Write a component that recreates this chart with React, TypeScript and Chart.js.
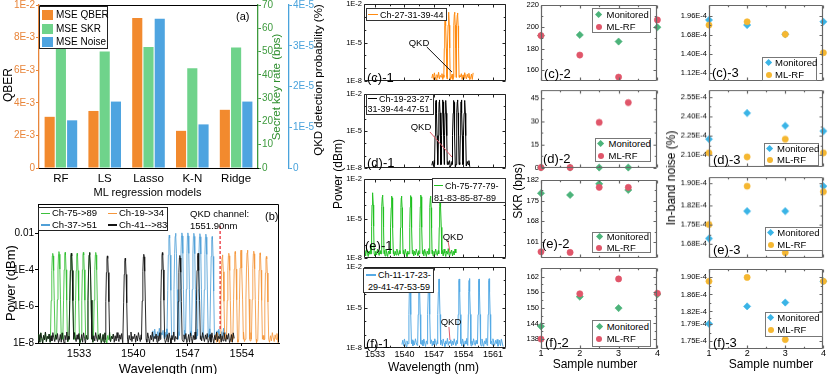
import React, { useEffect, useRef } from 'react';
import { Chart, registerables } from 'chart.js';
Chart.register(...registerables);

const FONT = '"Liberation Sans", Arial, Helvetica, sans-serif';
Chart.defaults.font.family = FONT;

// ---------------- (a) bar chart data ----------------
const MODELS = ['RF', 'LS', 'Lasso', 'K-N', 'Ridge'];
const MSE_QBER = [3.14e-3, 3.5e-3, 9.2e-3, 2.28e-3, 3.57e-3];
const MSE_SKR = [51.7, 50.0, 52.0, 42.8, 51.7];
const MSE_NOISE = [1.17e-5, 1.63e-5, 3.66e-5, 1.07e-5, 1.63e-5];
const QBER_TICKS = [0, 0.002, 0.004, 0.006, 0.008, 0.01];
const QBER_LABELS = ['0', '2E-3', '4E-3', '6E-3', '8E-3', '1E-2'];
const SKR_TICKS = [0, 10, 20, 30, 40, 50, 60, 70];
const NOISE_TICKS = [0, 1e-5, 2e-5, 3e-5, 4e-5];
const NOISE_LABELS = ['0', '1E-5', '2E-5', '3E-5', '4E-5'];

// ---------------- (b) spectrum data ----------------
const B_GREEN_NM = [1529.6, 1530.4, 1531.2, 1532.0, 1532.75, 1533.55, 1534.35, 1535.15];
const B_GREEN_P = [8e-4, 1e-3, 9e-4, 8e-4, 8e-4, 9e-4, 9e-4, 9e-4];
const B_BLACK_NM = [1532.0, 1534.35, 1536.65, 1538.95, 1541.35, 1543.75, 1546.0, 1548.35];
const B_BLACK_P = [8e-4, 8.8e-4, 5.8e-4, 4.3e-4, 7.1e-4, 8.8e-4, 6.1e-4, 8.1e-4];
const B_BLUE_NM = [1544.64, 1545.45, 1546.27, 1547.04, 1547.81, 1548.59, 1549.36, 1550.17];
const B_BLUE_P = [8e-3, 1e-2, 1.05e-2, 1.05e-2, 1e-2, 9.5e-3, 9e-3, 6.6e-3];
const B_ORANGE_NM = [1551.5, 1552.32, 1553.14, 1553.9, 1554.73, 1555.54, 1556.36, 1557.17];
const B_ORANGE_P = [6.6e-4, 8.1e-4, 1e-3, 1.2e-3, 1.2e-3, 1.05e-3, 8.5e-4, 5.4e-4];
const B_X_TICKS = [1533, 1540, 1547, 1554];
const B_Y_TICKS = [1e-8, 1e-6, 1e-4, 1e-2];
const B_Y_LABELS = ['1E-8', '1E-6', '1E-4', '0.01'];
const QKD_LINE_NM = 1551.2;

// ---------------- (c..f)-1 spectra ----------------
const C1_NM = [1549.7, 1550.5, 1551.9, 1552.6];
const C1_P = [2e-3, 2.3e-3, 2.3e-3, 2e-3];
const D1_NM = [1547.5, 1548.3, 1549.1, 1549.8, 1551.7, 1552.6, 1553.5, 1554.3];
const D1_P = [3e-3, 3.3e-3, 3.3e-3, 3e-3, 3e-3, 3.3e-3, 3.3e-3, 3e-3];
const E1_NM = [1532.45, 1534.8, 1537.0, 1539.3, 1541.5, 1543.9, 1546.2, 1548.5];
const E1_P = [9e-4, 6e-4, 5e-4, 5e-4, 5.5e-4, 6e-4, 5e-4, 6e-4];
const F1_NM = [1541.3, 1543.5, 1545.8, 1548.2, 1553.0, 1555.4, 1557.7, 1560.1];
const F1_P = [1.3e-3, 1.3e-3, 1.4e-3, 1.3e-3, 1.3e-3, 1.4e-3, 1.3e-3, 1.35e-3];
const MID_X_TICKS = [1533, 1540, 1547, 1554, 1561];
const MID_Y_TICKS = [1e-8, 1e-5, 1e-2];
const MID_Y_LABELS = ['1E-8', '1E-5', '1E-2'];

// noise floor texture (in units of the floor level)
const NOISE_TEXTURE = [1.4, 2.9, 1.1, 3.6, 1.8, 1.0, 2.6, 1.5, 4.0, 1.2, 2.3, 1.7, 3.1, 1.1, 2.5, 1.3, 3.7, 1.9, 1.2, 2.8, 1.6, 3.3, 1.05];

// ---------------- (c..f)-2 SKR ----------------
const SAMPLES = [1, 2, 3, 4];
const SAMPLES_DE = [1, 1.75, 2.5, 3.25];
const SKR_C_MON = [192, 192.6, 186.5, 199.7];
const SKR_C_ML = [192, 174, 153.6, 206.5];
const SKR_D_MON = [0, 0, 0, 0];
const SKR_D_ML = [0, 0, 29.3, 42.2];
const SKR_E_MON = [177.5, 176.9, 180.7, 178.6];
const SKR_E_ML = [157.6, 157.4, 179.5, 179.5];
const SKR_F_MON = [142.9, 154.3, 149.9, 155.2];
const SKR_F_ML = [138, 155.4, 161.1, 155.6];
const SKR_C_TICKS = [160, 180, 200, 220];
const SKR_D_TICKS = [0, 15, 30, 45];
const SKR_E_TICKS = [161, 168, 175, 182];
const SKR_F_TICKS = [138, 144, 150, 156, 162];

// ---------------- (c..f)-3 in-band noise ----------------
const NZ_C_MON = [1.897e-4, 1.824e-4, 1.689e-4, 1.872e-4];
const NZ_C_ML = [1.824e-4, 1.872e-4, 1.689e-4, 1.42e-4];
const NZ_D_MON = [2.224e-4, 2.425e-4, 2.327e-4, 2.286e-4];
const NZ_D_ML = [2.118e-4, 2.087e-4, 2.224e-4, 2.118e-4];
const NZ_E_MON = [1.7006e-4, 1.799e-4, 1.799e-4, 1.889e-4];
const NZ_E_ML = [1.751e-4, 1.889e-4, 1.65e-4, 1.869e-4];
const NZ_F_MON = [1.791e-4, 1.832e-4, 1.841e-4, 1.891e-4];
const NZ_F_ML = [1.891e-4, 1.90e-4, 1.754e-4, 1.891e-4];
const NZ_C_TICKS = [1.12e-4, 1.40e-4, 1.68e-4, 1.96e-4];
const NZ_D_TICKS = [2.10e-4, 2.25e-4, 2.40e-4, 2.55e-4];
const NZ_E_TICKS = [1.68e-4, 1.75e-4, 1.82e-4, 1.90e-4];
const NZ_F_TICKS = [1.75e-4, 1.79e-4, 1.82e-4, 1.86e-4, 1.90e-4];

// ---------------- styles ----------------
const C_ORANGE = '#f28a2e';
const C_GREEN = '#6fd38b';
const C_BLUE = '#4ea4e0';
const AX_ORANGE = '#e8853a';
const AX_GREEN = '#3d9a3d';
const AX_BLUE = '#4aa3dc';
const MON2 = '#4cb37a';
const ML2 = '#e0566a';
const MON3 = '#3ab4e6';
const ML3 = '#f5b731';
const FRAME_GRAY = '#666';

const PEAK_SHAPE: [number, number][] = [[-0.3, 0], [-0.2, 0.45], [-0.12, 0.8], [-0.05, 0.97], [0, 1], [0.05, 0.97], [0.12, 0.8], [0.2, 0.45], [0.3, 0]];

function spectrum(centres: number[], powers: number[], from: number, to: number, level: number, step: number, wscale: number) {
  const floor = level * 1.6;
  const pts: { x: number; y: number }[] = [];
  const n = Math.round((to - from) / step);
  const hw = 0.3 * wscale;
  for (let i = 0; i <= n; i++) {
    const x = from + i * step;
    if (centres.some((c) => Math.abs(x - c) < hw)) continue;
    pts.push({ x, y: NOISE_TEXTURE[i % NOISE_TEXTURE.length] * level });
  }
  centres.forEach((c, k) => PEAK_SHAPE.forEach(([dx, f]) => pts.push({ x: c + dx * wscale, y: floor * Math.pow(powers[k] / floor, f) })));
  return pts.sort((a, b) => a.x - b.x);
}

const mids = (a: number[]) => a.slice(1).map((v, i) => (v + a[i]) / 2);

type Box = { l: number; t: number; r: number; b: number };

function framePlugin(o: { sides?: string[]; color?: string; width?: number; ticks?: boolean; xMinor?: number[]; yMinor?: number[]; len?: number }) {
  return {
    id: 'frame',
    afterDraw(chart: any) {
      const { ctx, chartArea: a } = chart;
      ctx.save();
      ctx.strokeStyle = o.color ?? '#000';
      ctx.lineWidth = o.width ?? 1;
      const L = Math.round(a.left) + 0.5, R = Math.round(a.right) - 0.5, T = Math.round(a.top) + 0.5, B = Math.round(a.bottom) - 0.5;
      const sides = o.sides ?? ['top', 'right', 'bottom', 'left'];
      ctx.beginPath();
      if (sides.includes('top')) { ctx.moveTo(L, T); ctx.lineTo(R, T); }
      if (sides.includes('right')) { ctx.moveTo(R, T); ctx.lineTo(R, B); }
      if (sides.includes('bottom')) { ctx.moveTo(L, B); ctx.lineTo(R, B); }
      if (sides.includes('left')) { ctx.moveTo(L, T); ctx.lineTo(L, B); }
      ctx.stroke();
      if (o.ticks) {
        const xs = chart.scales.x, ys = chart.scales.y;
        const len = o.len ?? 3, ml = len * 0.6;
        ctx.beginPath();
        const xt = (v: number, l: number) => { const p = Math.round(xs.getPixelForValue(v)) + 0.5; ctx.moveTo(p, B); ctx.lineTo(p, B - l); ctx.moveTo(p, T); ctx.lineTo(p, T + l); };
        const yt = (v: number, l: number) => { const p = Math.round(ys.getPixelForValue(v)) + 0.5; ctx.moveTo(L, p); ctx.lineTo(L + l, p); ctx.moveTo(R, p); ctx.lineTo(R - l, p); };
        xs.ticks.forEach((t: any) => xt(t.value, len));
        (o.xMinor || []).forEach((v) => xt(v, ml));
        ys.ticks.forEach((t: any) => yt(t.value, len));
        (o.yMinor || []).forEach((v) => yt(v, ml));
        ctx.stroke();
      }
      ctx.restore();
    },
  };
}

function annotPlugin(lines: { x1: number; y1: number; x2: number; y2: number; color: string; dash?: number[]; width?: number }[]) {
  return {
    id: 'annot',
    afterDatasetsDraw(chart: any) {
      const { ctx } = chart;
      const xs = chart.scales.x, ys = chart.scales.y;
      ctx.save();
      for (const ln of lines) {
        ctx.beginPath();
        ctx.strokeStyle = ln.color;
        ctx.lineWidth = ln.width ?? 1;
        ctx.setLineDash(ln.dash ?? []);
        ctx.moveTo(xs.getPixelForValue(ln.x1), ys.getPixelForValue(ln.y1));
        ctx.lineTo(xs.getPixelForValue(ln.x2), ys.getPixelForValue(ln.y2));
        ctx.stroke();
      }
      ctx.restore();
    },
  };
}

const fixW = (w: number) => (s: any) => { s.width = w; };
const fixH = (h: number) => (s: any) => { s.height = h; };
const setTicks = (vals: number[]) => (s: any) => { s.ticks = vals.map((v) => ({ value: v })); };

function baseOpts(m: Box, padRight: number) {
  return {
    animation: false,
    responsive: false,
    devicePixelRatio: 1,
    events: [],
    layout: { padding: { left: 0, top: m.t, right: padRight, bottom: 0 } },
    plugins: { legend: { display: false }, tooltip: { enabled: false } },
  };
}

function ChartPanel({ rect, marg, make }: { rect: Box; marg: Box; make: () => any }) {
  const ref = useRef<HTMLCanvasElement>(null);
  const w = rect.r - rect.l + marg.l + marg.r;
  const h = rect.b - rect.t + marg.t + marg.b;
  useEffect(() => {
    const chart = new Chart(ref.current as HTMLCanvasElement, make());
    return () => chart.destroy();
  }, []);
  return <canvas ref={ref} width={w} height={h} style={{ position: 'absolute', left: rect.l - marg.l, top: rect.t - marg.t, width: w, height: h }} />;
}

// ---------- configs ----------
const A_RECT: Box = { l: 39, t: 5, r: 258, b: 168 };
const A_MARG: Box = { l: 39, t: 8, r: 72, b: 16 };
function configA() {
  const tickFont = { size: 10, lineHeight: 1, family: FONT };
  return {
    type: 'bar',
    data: {
      labels: MODELS,
      datasets: [
        { label: 'MSE QBER', data: MSE_QBER, backgroundColor: C_ORANGE, yAxisID: 'yQ', borderWidth: 0 },
        { label: 'MSE SKR', data: MSE_SKR, backgroundColor: C_GREEN, yAxisID: 'yS', borderWidth: 0 },
        { label: 'MSE Noise', data: MSE_NOISE, backgroundColor: C_BLUE, yAxisID: 'yN', borderWidth: 0 },
      ],
    },
    options: {
      ...baseOpts(A_MARG, 0),
      datasets: { bar: { categoryPercentage: 0.77, barPercentage: 0.9 } },
      scales: {
        x: { type: 'category', grid: { display: false, drawTicks: false }, border: { display: true, color: '#000', z: 1 }, ticks: { font: { size: 11.5, lineHeight: 1, family: FONT }, color: '#000', padding: 5 }, afterFit: fixH(A_MARG.b) },
        yQ: {
          position: 'left', min: 0, max: 0.01, afterBuildTicks: setTicks(QBER_TICKS), afterFit: fixW(A_MARG.l),
          grid: { display: true, drawOnChartArea: false, drawTicks: true, tickLength: 3, color: AX_ORANGE, lineWidth: 1 },
          border: { display: true, color: AX_ORANGE, width: 1.3 },
          ticks: { font: tickFont, color: AX_ORANGE, padding: 1, callback: (_v: any, i: number) => QBER_LABELS[i] },
        },
        yS: {
          position: 'right', weight: 0, min: 0, max: 70, afterBuildTicks: setTicks(SKR_TICKS), afterFit: fixW(31),
          grid: { display: true, drawOnChartArea: false, drawTicks: true, tickLength: 3, color: AX_GREEN, lineWidth: 1 },
          border: { display: true, color: AX_GREEN, width: 1.3 },
          ticks: { font: tickFont, color: AX_GREEN, padding: 1 },
        },
        yN: {
          position: 'right', weight: 1, min: 0, max: 4e-5, afterBuildTicks: setTicks(NOISE_TICKS), afterFit: fixW(A_MARG.r - 31),
          grid: { display: true, drawOnChartArea: false, drawTicks: true, tickLength: 3, color: AX_BLUE, lineWidth: 1 },
          border: { display: true, color: AX_BLUE, width: 1.3 },
          ticks: { font: tickFont, color: AX_BLUE, padding: 1, callback: (_v: any, i: number) => NOISE_LABELS[i] },
        },
      },
    },
    plugins: [framePlugin({ sides: ['top'], color: '#000' })],
  };
}

const B_RECT: Box = { l: 38, t: 204, r: 279, b: 343 };
const B_MARG: Box = { l: 38, t: 8, r: 6, b: 31 };
function configB() {
  const line = (data: any, color: string) => ({ data, borderColor: color, borderWidth: 1, pointRadius: 0, tension: 0, fill: false });
  return {
    type: 'line',
    data: {
      datasets: [
        line(spectrum(B_BLACK_NM, B_BLACK_P, 1527.7, 1553.0, 1e-8, 0.12, 1), 'rgba(20,20,20,0.9)'),
        line(spectrum(B_ORANGE_NM, B_ORANGE_P, 1550.5, 1558.8, 1e-8, 0.12, 1), 'rgba(245,150,60,0.85)'),
        line(spectrum(B_BLUE_NM, B_BLUE_P, 1542.4, 1552.0, 1.6e-8, 0.12, 1), 'rgba(80,160,215,0.85)'),
        line(spectrum(B_GREEN_NM, B_GREEN_P, 1527.7, 1537.4, 1e-8, 0.12, 1), 'rgba(50,190,50,0.85)'),
      ],
    },
    options: {
      ...baseOpts(B_MARG, B_MARG.r),
      scales: {
        x: {
          type: 'linear', min: 1527.7, max: 1558.8, afterBuildTicks: setTicks(B_X_TICKS), afterFit: fixH(B_MARG.b),
          grid: { display: true, drawOnChartArea: false, drawTicks: true, tickLength: 3, color: '#000' },
          border: { display: true, color: '#000' },
          ticks: { font: { size: 11, lineHeight: 1 }, color: '#000', padding: 2.5, callback: (v: any) => String(v) },
        },
        y: {
          type: 'logarithmic', min: 1e-8, max: 0.4, afterBuildTicks: setTicks(B_Y_TICKS), afterFit: fixW(B_MARG.l),
          grid: { display: true, drawOnChartArea: false, drawTicks: true, tickLength: 3, color: '#000' },
          border: { display: true, color: '#000' },
          ticks: { font: { size: 10, lineHeight: 1 }, color: '#000', padding: 1, callback: (_v: any, i: number) => B_Y_LABELS[i] },
        },
      },
    },
    plugins: [
      framePlugin({ sides: ['top', 'right'], color: '#000' }),
      annotPlugin([{ x1: QKD_LINE_NM, y1: 0.025, x2: QKD_LINE_NM, y2: 5e-8, color: '#e8202a', dash: [3, 2], width: 1.2 }]),
    ],
  };
}

function configMid(data: any, color: string, showX: boolean, marg: Box, pointer: any) {
  return {
    type: 'line',
    data: { datasets: [{ data, borderColor: color, borderWidth: 1, pointRadius: 0, tension: 0, fill: false }] },
    options: {
      ...baseOpts(marg, marg.r),
      scales: {
        x: {
          type: 'linear', min: 1530.4, max: 1564.1, afterBuildTicks: setTicks(MID_X_TICKS), afterFit: fixH(marg.b),
          grid: { display: false, drawTicks: false }, border: { display: false },
          ticks: { display: showX, font: { size: 9, lineHeight: 1 }, color: '#000', padding: 2.5, callback: (v: any) => String(v) },
        },
        y: {
          type: 'logarithmic', min: 1e-8, max: 1e-2, afterBuildTicks: setTicks(MID_Y_TICKS), afterFit: fixW(marg.l),
          grid: { display: false, drawTicks: false }, border: { display: false },
          ticks: { font: { size: 7.5, lineHeight: 1 }, color: '#000', padding: 2, callback: (_v: any, i: number) => MID_Y_LABELS[i] },
        },
      },
    },
    plugins: [
      framePlugin({ color: '#222', ticks: true, xMinor: mids(MID_X_TICKS), yMinor: [1e-7, 1e-6, 1e-4, 1e-3] }),
      annotPlugin([pointer]),
    ],
  };
}

function configScatter(xs: number[], mon: number[], ml: number[], monColor: string, mlColor: string, min: number, max: number, ticks: number[], fmt: (v: number) => string, showX: boolean, marg: Box) {
  const pts = (vals: number[]) => xs.map((x, i) => ({ x, y: vals[i] }));
  return {
    type: 'scatter',
    data: {
      datasets: [
        { label: 'ML-RF', data: pts(ml), pointStyle: 'circle', pointRadius: 3.1, backgroundColor: mlColor, borderColor: mlColor, borderWidth: 0.6, clip: false },
        { label: 'Monitored', data: pts(mon), pointStyle: 'rectRot', pointRadius: 3.6, backgroundColor: monColor, borderColor: monColor, borderWidth: 0.6, clip: false },
      ],
    },
    options: {
      ...baseOpts(marg, marg.r),
      scales: {
        x: {
          type: 'linear', min: 1, max: 4, afterBuildTicks: setTicks(SAMPLES), afterFit: fixH(marg.b),
          grid: { display: false, drawTicks: false }, border: { display: false },
          ticks: { display: showX, font: { size: 9, lineHeight: 1 }, color: '#000', padding: 0.5, callback: (v: any) => String(v) },
        },
        y: {
          type: 'linear', min, max, afterBuildTicks: setTicks(ticks), afterFit: fixW(marg.l),
          grid: { display: false, drawTicks: false }, border: { display: false },
          ticks: { font: { size: 7.5, lineHeight: 1 }, color: '#000', padding: 2, callback: (v: any) => fmt(v) },
        },
      },
    },
    plugins: [framePlugin({ color: FRAME_GRAY, width: 1.2, ticks: true, xMinor: mids(SAMPLES), yMinor: mids(ticks) })],
  };
}

const fmtInt = (v: number) => String(Math.round(v));
const fmtE4 = (v: number) => (v * 1e4).toFixed(2) + 'E-4';

// rects
const MID_L = 364, MID_R = 506;
const C1_RECT: Box = { l: MID_L, t: 4, r: MID_R, b: 81 };
const D1_RECT: Box = { l: MID_L, t: 94, r: MID_R, b: 168 };
const E1_RECT: Box = { l: MID_L, t: 179, r: MID_R, b: 258 };
const F1_RECT: Box = { l: MID_L, t: 267, r: MID_R, b: 348 };
const MID_MARG: Box = { l: 30, t: 8, r: 4, b: 6 };
const MID_MARG_B: Box = { l: 30, t: 8, r: 4, b: 20 };

const C2_L = 541, C2_R = 658;
const C3_L = 709, C3_R = 824;
const COL2_MARG: Box = { l: 28, t: 8, r: 4, b: 6 };
const COL2_MARG_B: Box = { l: 28, t: 8, r: 4, b: 20 };
const COL3_MARG: Box = { l: 36, t: 8, r: 4, b: 6 };
const COL3_MARG_B: Box = { l: 36, t: 8, r: 4, b: 20 };

function T({ x, y, s, size = 11, color = '#000', align = 'l', rot = 0 }: { x: number; y: number; s: string; size?: number; color?: string; align?: string; rot?: number }) {
  const tx = align === 'c' ? '-50%' : align === 'r' ? '-100%' : '0';
  return (
    <div style={{ position: 'absolute', left: x, top: y, transform: `translate(${tx},-50%) rotate(${rot}deg)`, fontSize: size, color, whiteSpace: 'nowrap', lineHeight: 1, fontFamily: FONT }}>{s}</div>
  );
}

function Mk({ kind, color, x, y, w = 10 }: { kind: string; color: string; x: number; y: number; w?: number }) {
  if (kind === 'line') return <div style={{ position: 'absolute', left: x, top: y - 0.75, width: w, height: 1.5, background: color }} />;
  if (kind === 'square') return <div style={{ position: 'absolute', left: x, top: y - 5, width: 11, height: 10, background: color }} />;
  if (kind === 'diamond') return <div style={{ position: 'absolute', left: x - 2.6, top: y - 2.6, width: 5.2, height: 5.2, background: color, transform: 'rotate(45deg)' }} />;
  return <div style={{ position: 'absolute', left: x - 3, top: y - 3, width: 6, height: 6, borderRadius: '50%', background: color }} />;
}

function Frame({ x, y, w, h, color = '#222' }: { x: number; y: number; w: number; h: number; color?: string }) {
  return <div style={{ position: 'absolute', left: x, top: y, width: w, height: h, border: `1px solid ${color}`, background: '#fff', boxSizing: 'border-box' }} />;
}

function ScatterLegend({ x, y, w, h, r1, r2, mx, tx, mon, ml }: { x: number; y: number; w: number; h: number; r1: number; r2: number; mx: number; tx: number; mon: string; ml: string }) {
  return (
    <>
      <Frame x={x} y={y} w={w} h={h} color="#777" />
      <Mk kind="diamond" color={mon} x={mx} y={r1} />
      <T x={tx} y={r1} s="Monitored" size={9.5} />
      <Mk kind="circle" color={ml} x={mx} y={r2} />
      <T x={tx} y={r2} s="ML-RF" size={9.5} />
    </>
  );
}

export default function App() {
  return (
    <div style={{ position: 'fixed', left: 0, top: 0, width: 830, height: 374, overflow: 'hidden', background: '#fff', fontFamily: FONT }}>
      <ChartPanel rect={A_RECT} marg={A_MARG} make={configA} />
      <ChartPanel rect={B_RECT} marg={B_MARG} make={configB} />

      <ChartPanel rect={C1_RECT} marg={MID_MARG} make={() => configMid(spectrum(C1_NM, C1_P, 1546.5, 1556.3, 1.2e-8, 0.2, 1.2), '#ff8a10', false, MID_MARG, { x1: 1545.3, y1: 4.5e-6, x2: 1551.27, y2: 5e-8, color: '#111' })} />
      <ChartPanel rect={D1_RECT} marg={MID_MARG} make={() => configMid(spectrum(D1_NM, D1_P, 1546.5, 1555.5, 1.2e-8, 0.2, 1.2), '#000', false, MID_MARG, { x1: 1546.05, y1: 8.3e-6, x2: 1551.27, y2: 7.8e-8, color: '#e05a6a' })} />
      <ChartPanel rect={E1_RECT} marg={MID_MARG} make={() => configMid(spectrum(E1_NM, E1_P, 1530.4, 1552.2, 1.3e-8, 0.2, 1.2), '#20c020', false, MID_MARG, { x1: 1550.3, y1: 2.3e-7, x2: 1550.8, y2: 2.9e-8, color: '#e05a6a' })} />
      <ChartPanel rect={F1_RECT} marg={MID_MARG_B} make={() => configMid(spectrum(F1_NM, F1_P, 1539.4, 1563.4, 1.3e-8, 0.2, 1.2), '#55aae5', true, MID_MARG_B, { x1: 1550.56, y1: 3.6e-7, x2: 1550.8, y2: 3.9e-8, color: '#e05a6a' })} />

      <ChartPanel rect={{ l: C2_L, t: 5, r: C2_R, b: 81 }} marg={COL2_MARG} make={() => configScatter(SAMPLES, SKR_C_MON, SKR_C_ML, MON2, ML2, 150, 220.3, SKR_C_TICKS, fmtInt, false, COL2_MARG)} />
      <ChartPanel rect={{ l: C2_L, t: 90, r: C2_R, b: 167.5 }} marg={COL2_MARG} make={() => configScatter(SAMPLES_DE, SKR_D_MON, SKR_D_ML, MON2, ML2, -0.3, 50.3, SKR_D_TICKS, fmtInt, false, COL2_MARG)} />
      <ChartPanel rect={{ l: C2_L, t: 179.5, r: C2_R, b: 257.7 }} marg={COL2_MARG} make={() => configScatter(SAMPLES_DE, SKR_E_MON, SKR_E_ML, MON2, ML2, 155.5, 182, SKR_E_TICKS, fmtInt, false, COL2_MARG)} />
      <ChartPanel rect={{ l: C2_L, t: 268, r: C2_R, b: 349.3 }} marg={COL2_MARG_B} make={() => configScatter(SAMPLES, SKR_F_MON, SKR_F_ML, MON2, ML2, 134.2, 165.3, SKR_F_TICKS, fmtInt, true, COL2_MARG_B)} />

      <ChartPanel rect={{ l: C3_L, t: 5, r: C3_R, b: 81 }} marg={COL3_MARG} make={() => configScatter(SAMPLES, NZ_C_MON, NZ_C_ML, MON3, ML3, 1.008e-4, 2.116e-4, NZ_C_TICKS, fmtE4, false, COL3_MARG)} />
      <ChartPanel rect={{ l: C3_L, t: 90, r: C3_R, b: 166.7 }} marg={COL3_MARG} make={() => configScatter(SAMPLES, NZ_D_MON, NZ_D_ML, MON3, ML3, 2.0095e-4, 2.602e-4, NZ_D_TICKS, fmtE4, false, COL3_MARG)} />
      <ChartPanel rect={{ l: C3_L, t: 177, r: C3_R, b: 257.7 }} marg={COL3_MARG} make={() => configScatter(SAMPLES, NZ_E_MON, NZ_E_ML, MON3, ML3, 1.6305e-4, 1.9217e-4, NZ_E_TICKS, fmtE4, false, COL3_MARG)} />
      <ChartPanel rect={{ l: C3_L, t: 269.3, r: C3_R, b: 349.3 }} marg={COL3_MARG_B} make={() => configScatter(SAMPLES, NZ_F_MON, NZ_F_ML, MON3, ML3, 1.732e-4, 1.9197e-4, NZ_F_TICKS, fmtE4, true, COL3_MARG_B)} />

      {/* (a) texts and legend */}
      <Frame x={39} y={6} w={69} h={43} color="#222" />
      <Mk kind="square" color={C_ORANGE} x={42} y={15} />
      <T x={56} y={15} s="MSE QBER" size={10} />
      <Mk kind="square" color={C_GREEN} x={42} y={28.5} />
      <T x={56} y={28.5} s="MSE SKR" size={10} />
      <Mk kind="square" color={C_BLUE} x={42} y={42} />
      <T x={56} y={42} s="MSE Noise" size={10} />
      <T x={236} y={15.5} s="(a)" size={11} />
      <T x={8} y={85} s="QBER" size={12} align="c" rot={-90} />
      <T x={147.5} y={192} s="ML regression models" size={11} align="c" />
      <T x={277} y={87} s="Secret key rate (bps)" size={11.5} color="#2f8f2f" align="c" rot={-90} />
      <T x={319} y={80} s="QKD detection probability (%)" size={11.5} align="c" rot={-90} />

      {/* (b) texts and legend */}
      <Frame x={38} y={207} w={130} h={24} color="#222" />
      <Mk kind="line" color="#3cc03c" x={41} y={213.3} w={9} />
      <T x={52} y={213.3} s="Ch-75->89" size={9.5} />
      <Mk kind="line" color="#f5963c" x={108} y={213.3} w={9} />
      <T x={119} y={213.3} s="Ch-19->34" size={9.5} />
      <Mk kind="line" color="#50a0d7" x={41} y={225} w={9} />
      <T x={52} y={225} s="Ch-37->51" size={9.5} />
      <Mk kind="line" color="#141414" x={108} y={225} w={9} />
      <T x={119} y={225} s="Ch-41-->83" size={9.5} />
      <T x={190} y={213.5} s="QKD channel:" size={9.5} />
      <T x={190} y={225.5} s="1551.90nm" size={9.5} />
      <T x={265} y={216} s="(b)" size={11} />
      <T x={10} y={283} s="Power (dBm)" size={13} align="c" rot={-90} />
      <T x={168} y={368} s="Wavelength (nm)" size={13} align="c" />

      {/* middle column */}
      <Frame x={366} y={8} w={81} h={13} color="#333" />
      <Mk kind="line" color="#ff8a10" x={368} y={14.5} />
      <T x={380} y={14.5} s="Ch-27-31-39-44" size={9} />
      <Frame x={366} y={94} w={68} h={21} color="#333" />
      <Mk kind="line" color="#000" x={368} y={98.5} w={9} />
      <T x={379} y={98.5} s="Ch-19-23-27-" size={9} />
      <T x={367.5} y={109} s="31-39-44-47-51" size={9} />
      <Frame x={432} y={178} w={74} h={25} color="#333" />
      <Mk kind="line" color="#20c020" x={434} y={185.5} w={9} />
      <T x={445} y={185.5} s="Ch-75-77-79-" size={9} />
      <T x={434} y={197.5} s="81-83-85-87-89" size={9} />
      <Frame x={363} y={268} w={71} h={25} color="#333" />
      <Mk kind="line" color="#55aae5" x={366} y={275} />
      <T x={378} y={275} s="Ch-11-17-23-" size={9} />
      <T x={368} y={286.5} s="29-41-47-53-59" size={9} />
      <T x={419} y={43} s="QKD" size={9.5} align="c" />
      <T x={421} y={127} s="QKD" size={9.5} align="c" />
      <T x={453} y={236.5} s="QKD" size={9.5} align="c" />
      <T x={451} y={322} s="QKD" size={9.5} align="c" />
      <T x={367} y={77} s="(c)-1" size={13} />
      <T x={367} y={162} s="(d)-1" size={13} />
      <T x={365} y={245} s="(e)-1" size={13} />
      <T x={366} y={342.5} s="(f)-1" size={13} />
      <T x={337.5} y={174} s="Power (dBm)" size={12} align="c" rot={-90} />
      <T x={433.5} y={367} s="Wavelength (nm)" size={12} align="c" />

      {/* column 2 */}
      <ScatterLegend x={592} y={8} w={59} h={25} r1={15} r2={26.7} mx={598.5} tx={606.5} mon={MON2} ml={ML2} />
      <ScatterLegend x={595} y={138} w={56} h={24} r1={144} r2={155.5} mx={601} tx={608.5} mon={MON2} ml={ML2} />
      <ScatterLegend x={592} y={232} w={59} h={21} r1={237} r2={248.3} mx={599.3} tx={606.7} mon={MON2} ml={ML2} />
      <ScatterLegend x={592} y={320} w={59} h={27} r1={326.5} r2={339.3} mx={599.3} tx={606.7} mon={MON2} ml={ML2} />
      <T x={544} y={73} s="(c)-2" size={13} />
      <T x={543} y={158} s="(d)-2" size={13} />
      <T x={542} y={243} s="(e)-2" size={13} />
      <T x={545} y={342} s="(f)-2" size={13} />
      <T x={518} y={191} s="SKR (bps)" size={12} align="c" rot={-90} />
      <T x={595} y={364} s="Sample number" size={12} align="c" />

      {/* column 3 */}
      <ScatterLegend x={762} y={57} w={55} h={24} r1={62.5} r2={74.5} mx={768.5} tx={775} mon={MON3} ml={ML3} />
      <ScatterLegend x={764} y={143} w={55} h={23} r1={148.5} r2={160} mx={770} tx={777} mon={MON3} ml={ML3} />
      <ScatterLegend x={765} y={227} w={58} h={24} r1={232.7} r2={245} mx={770.7} tx={777.3} mon={MON3} ml={ML3} />
      <ScatterLegend x={765} y={312} w={58} h={25} r1={317.5} r2={330} mx={770.7} tx={777.3} mon={MON3} ml={ML3} />
      <T x={712} y={72} s="(c)-3" size={13} />
      <T x={713} y={159} s="(d)-3" size={13} />
      <T x={713} y={249} s="(e)-3" size={13} />
      <T x={713} y={342} s="(f)-3" size={13} />
      <T x={671} y={178} s="In-band noise (%)" size={12} align="c" rot={-90} />
      <T x={771} y={364} s="Sample number" size={12} align="c" />
    </div>
  );
}
